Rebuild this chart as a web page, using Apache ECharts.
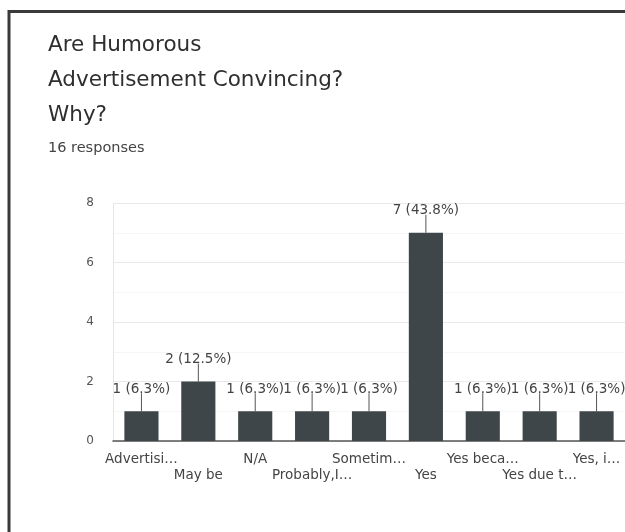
<!DOCTYPE html>
<html>
<head>
<meta charset="utf-8">
<script src="https://cdn.jsdelivr.net/npm/echarts@6/dist/echarts.min.js"></script>
<style>
  html, body { margin: 0; padding: 0; background: #fff; }
  #chart { width: 625px; height: 532px; }
</style>
</head>
<body>
<div id="chart"></div>
<script>
// Survey answers (truncated as shown on the axis) and their response counts
const categories = ['Advertisi…', 'May be', 'N/A', 'Probably,I…', 'Sometim…', 'Yes', 'Yes beca…', 'Yes due t…', 'Yes, i…'];
const counts = [1, 2, 1, 1, 1, 7, 1, 1, 1];
const yTicks = [0, 2, 4, 6, 8];

const totalResponses = counts.reduce((a, b) => a + b, 0);
const FONT = 'DejaVu Sans';

const chart = echarts.init(document.getElementById('chart'), null, { renderer: 'canvas' });

chart.setOption({
  backgroundColor: '#ffffff',
  animation: false,
  title: {
    text: 'Are Humorous\nAdvertisement Convincing?\nWhy?',
    subtext: totalResponses + ' responses',
    left: 43,
    top: 23,
    itemGap: 6,
    textStyle: { fontFamily: FONT, fontSize: 21.5, fontWeight: 'normal', color: '#2f2f2f', lineHeight: 35 },
    subtextStyle: { fontFamily: FONT, fontSize: 14.5, color: '#444', lineHeight: 18 }
  },
  graphic: [{
    type: 'rect',
    silent: true,
    shape: { x: 9, y: 11.5, width: 800, height: 700 },
    style: { fill: 'none', stroke: '#3a3a3a', lineWidth: 3 }
  }],
  grid: { left: 113, right: 0, top: 203, bottom: 91 },
  xAxis: {
    type: 'category',
    data: categories,
    axisTick: { show: false },
    axisLine: { lineStyle: { color: '#555', width: 1.5 } },
    axisLabel: {
      interval: 0,
      margin: 10,
      fontFamily: FONT,
      fontSize: 13.5,
      color: '#444',
      lineHeight: 16,
      formatter: (v, i) => (i % 2 === 1 ? '\n' + v : v)
    }
  },
  yAxis: {
    type: 'value',
    min: yTicks[0],
    max: yTicks[yTicks.length - 1],
    interval: 2,
    axisLine: { show: true, lineStyle: { color: '#e6e6e6' } },
    axisTick: { show: false },
    axisLabel: { margin: 19, fontFamily: FONT, fontSize: 12, color: '#555' },
    splitLine: { lineStyle: { color: '#e9e9e9' } },
    minorTick: { show: false, splitNumber: 2 },
    minorSplitLine: { show: true, lineStyle: { color: '#f6f6f6' } }
  },
  series: [
    {
      type: 'bar',
      data: counts,
      barWidth: '60%',
      itemStyle: { color: '#3e4649' },
      z: 2,
      label: {
        show: true,
        position: 'top',
        distance: 15,
        fontFamily: FONT,
        fontSize: 13.5,
        color: '#444',
        formatter: p => p.value + ' (' + (p.value / totalResponses * 100).toFixed(1) + '%)'
      }
    },
    {
      // short leader lines joining each bar to its value label
      type: 'custom',
      silent: true,
      z: 3,
      data: counts.map((v, i) => [i, v]),
      encode: { x: 0, y: 1 },
      renderItem: (params, api) => {
        const p = api.coord([api.value(0), api.value(1)]);
        return {
          type: 'line',
          shape: { x1: p[0], y1: p[1], x2: p[0], y2: p[1] - 18 },
          style: { stroke: '#555', lineWidth: 1 }
        };
      }
    }
  ]
});
</script>
</body>
</html>
